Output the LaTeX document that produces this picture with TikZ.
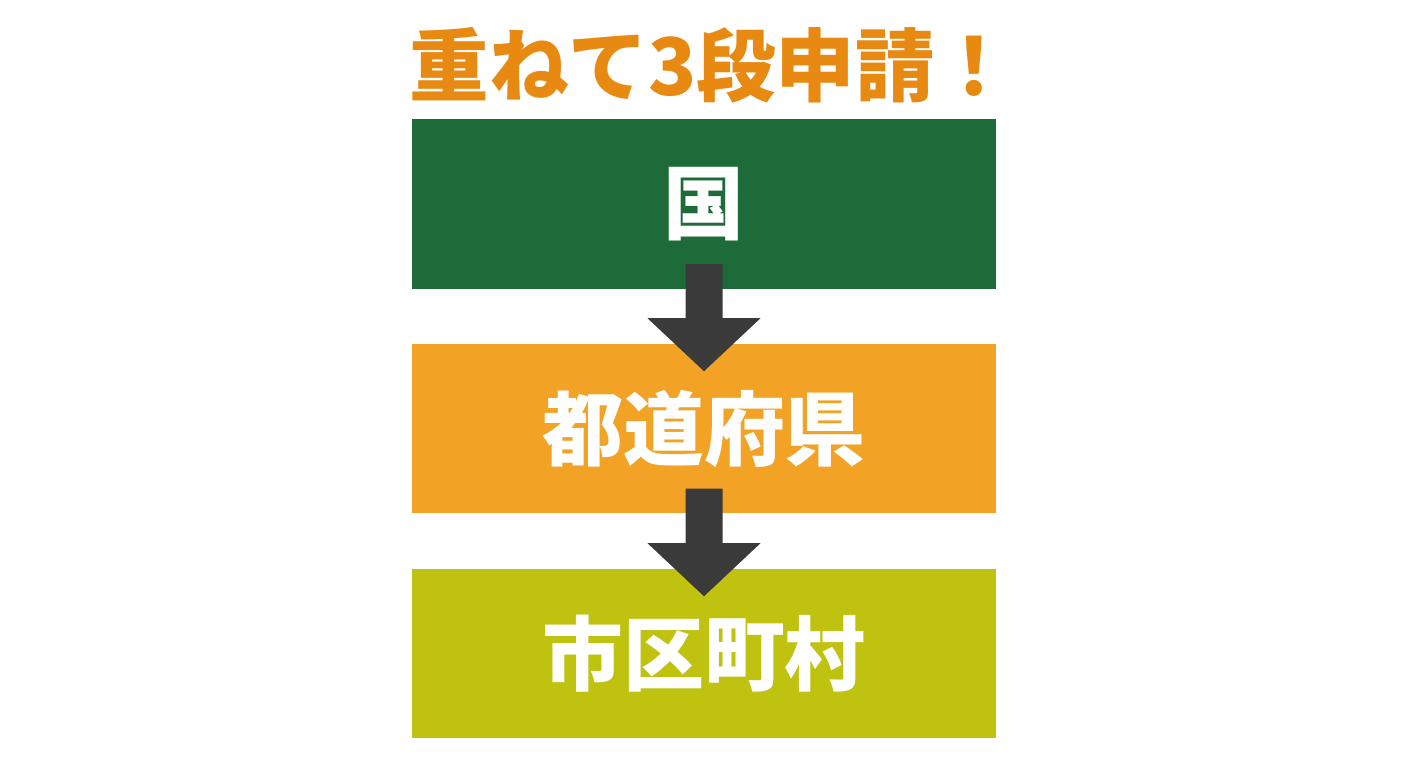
\documentclass[tikz,border=0pt]{standalone}
\usepackage{fontspec}
\usepackage{xcolor}
\usepackage{tikz}
\usetikzlibrary{calc}
\newfontfamily\jpfont{Noto Sans CJK JP}[BoldFont={Noto Sans CJK JP Black}]
\definecolor{kunigreen}{HTML}{1E6B3A}
\definecolor{kenorange}{HTML}{F2A325}
\definecolor{shiolive}{HTML}{BFC20E}
\definecolor{titleorange}{HTML}{E88A12}
\definecolor{arrowgray}{HTML}{3A3A3A}
\tikzset{
  levelbox/.style={minimum width=5.84cm, minimum height=1.69cm, inner sep=0pt,
    text=white, font=\jpfont\bfseries\fontsize{23}{23}\selectfont},
}

\begin{document}
\begin{tikzpicture}[x=0.01cm, y=-0.01cm]
                \useasboundingbox (0,0) rectangle (1408,768);
                % title
                \node[text=titleorange, font=\jpfont\bfseries\fontsize{22.6}{22.6}\selectfont] (title) at (712,65) {重ねて3段申請！};
                % the three levels
                \node[levelbox, fill=kunigreen] (kuni) at (704,204) {国};
                \node[levelbox, fill=kenorange] (ken) at (704,428.5) {都道府県};
                \node[levelbox, fill=shiolive] (shi) at (704,653.5) {市区町村};
                % block arrows between them
                \foreach \a/\b in {kuni/ken, ken/shi} {
                    \fill[arrowgray] ($(\a.south)+(-18.5,-25)$) -- ($(\a.south)+(18.5,-25)$)
                        -- ($(\b.north)+(18.5,-25)$) -- ($(\b.north)+(56.5,-25)$)
                        -- ($(\b.north)+(0,28)$) -- ($(\b.north)+(-56.5,-25)$)
                        -- ($(\b.north)+(-18.5,-25)$) -- cycle;
                }
            \end{tikzpicture}
\end{document}
